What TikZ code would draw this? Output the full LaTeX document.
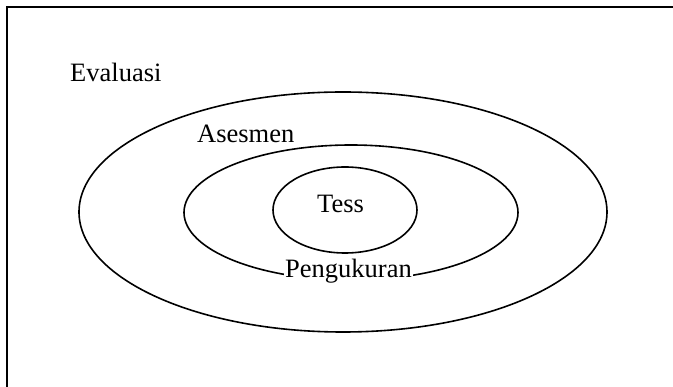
\documentclass[tikz,border=0pt]{standalone}
\usepackage{fontspec}
\setmainfont{Liberation Serif}
\begin{document}
\begin{tikzpicture}[x=1pt,y=-1pt,
  ring/.style={draw,line width=1.6pt},
  lbl/.style={inner sep=0pt,anchor=base west,font=\fontsize{26.5}{30}\selectfont}]
\useasboundingbox (0,0) rectangle (673,387);
\draw[line width=2.4pt] (7,387) -- (7,7) -- (673,7);
\draw[ring] (343,212) ellipse [x radius=264,y radius=120];
\draw[ring] (351,212.5) ellipse [x radius=167,y radius=67.5];
\draw[ring] (345,210) ellipse [x radius=72,y radius=43];
\node[lbl] (eval) at (70,82) {Evaluasi};
\node[lbl] (ases) at (197,143) {Asesmen};
\node[lbl] (tess) at (317,213) {Tess};
\node[lbl,fill=white,inner xsep=1pt] (peng) at (284,278) {Pengukuran};
\end{tikzpicture}
\end{document}
